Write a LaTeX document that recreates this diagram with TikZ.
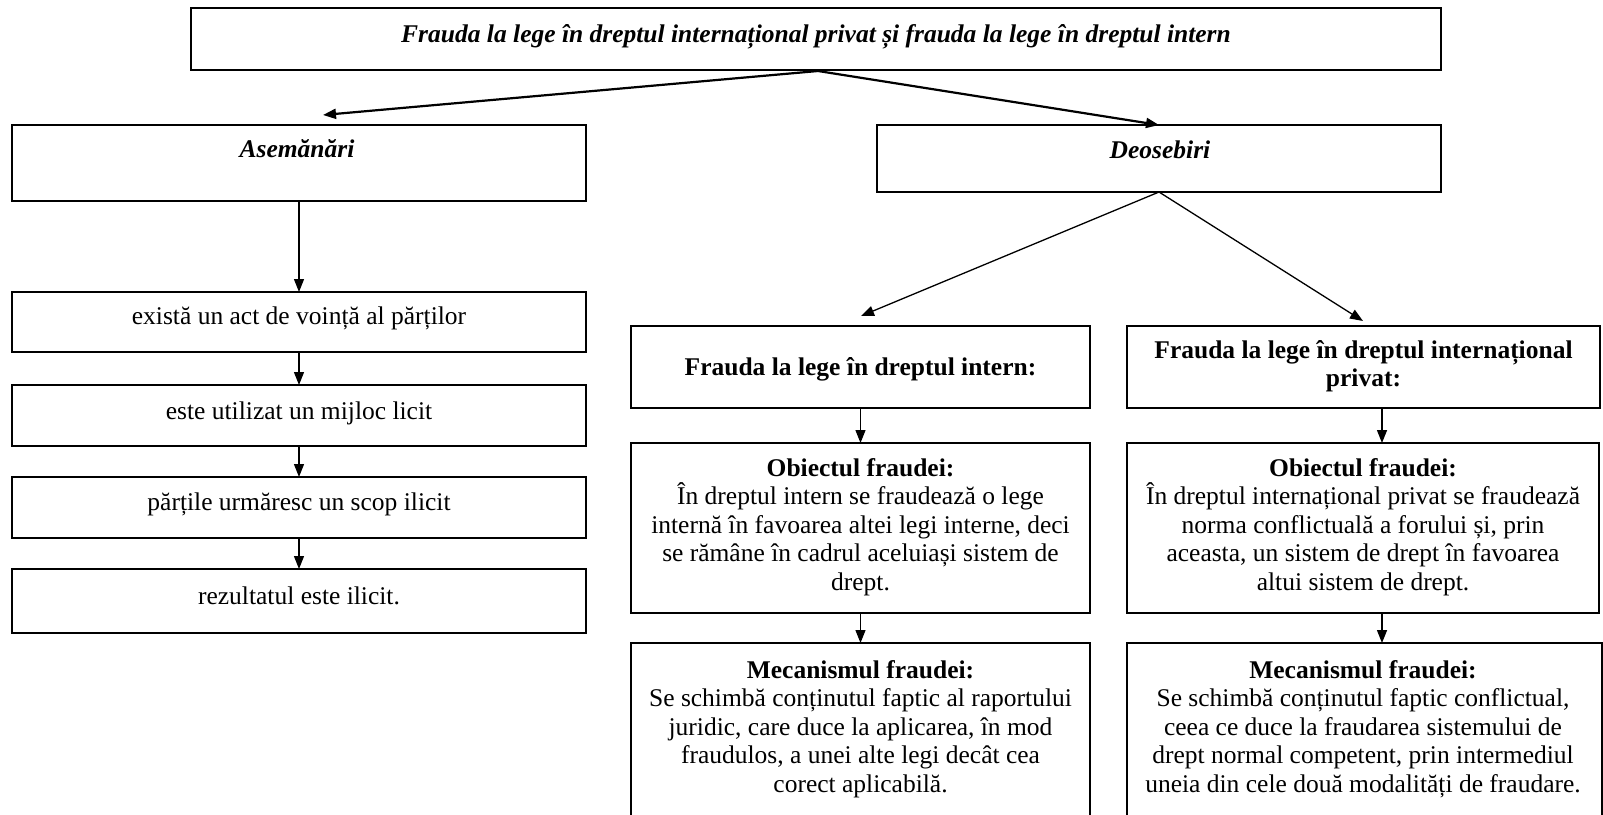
\documentclass[tikz,border=0pt]{standalone}
\usepackage{fontspec}
\setmainfont{Liberation Serif}
\usetikzlibrary{arrows.meta}
\begin{document}
\begin{tikzpicture}[x=1pt,y=-1pt,
  box/.style={draw, line width=1.3pt, inner sep=0pt, outer sep=0pt},
  txt/.style={align=center, inner sep=0pt, font=\fontsize{25.5}{28.4}\selectfont},
  bitxt/.style={txt, font=\fontsize{25.5}{28.4}\selectfont\bfseries\itshape},
  btxt/.style={txt, font=\fontsize{25.5}{28.4}\selectfont\bfseries},
  arr/.style={-{Triangle[length=13pt,width=10pt]}, line width=1.3pt},
  arrthick/.style={arr, line width=2.2pt}]
\useasboundingbox (0,0) rectangle (1603,814);
\fill[white] (0,0) rectangle (1603,814);
\clip (0,0) rectangle (1603,814);

% boxes
\node[box, minimum width=1250pt, minimum height=62pt] (top) at (816,39) {};
\node[box, minimum width=574pt, minimum height=76pt] (asem) at (299,163) {};
\node[box, minimum width=564pt, minimum height=67pt] (deos) at (1159,158.5) {};
\node[box, minimum width=574pt, minimum height=60pt] (ex) at (299,322) {};
\node[box, minimum width=574pt, minimum height=61pt] (este) at (299,415.5) {};
\node[box, minimum width=574pt, minimum height=61pt] (part) at (299,507.5) {};
\node[box, minimum width=574pt, minimum height=64pt] (rez) at (299,601) {};
\node[box, minimum width=459pt, minimum height=82pt] (fi) at (860.5,367) {};
\node[box, minimum width=473pt, minimum height=82pt] (fp) at (1363.5,367) {};
\node[box, minimum width=459pt, minimum height=170pt] (oi) at (860.5,528) {};
\node[box, minimum width=472pt, minimum height=170pt] (op) at (1363,528) {};
\node[box, minimum width=459pt, minimum height=197pt] (mi) at (860.5,741.5) {};
\node[box, minimum width=475pt, minimum height=197pt] (mp) at (1364.5,741.5) {};

% texts
\node[bitxt] (ttop) at (816,37) {Frauda la lege în dreptul internațional privat și frauda la lege în dreptul intern};
\node[bitxt] (tasem) at (297,149) {Asemănări};
\node[bitxt] (tdeos) at (1160,150) {Deosebiri};
\node[txt] (tex) at (299,318) {există un act de voință al părților};
\node[txt] (teste) at (299,413) {este utilizat un mijloc licit};
\node[txt] (tpart) at (299,504) {părțile urmăresc un scop ilicit};
\node[txt] (trez) at (299,596) {rezultatul este ilicit.};
\node[btxt] (tfi) at (860.5,369) {Frauda la lege în dreptul intern:};
\node[btxt] (tfp) at (1363.5,366) {Frauda la lege în dreptul internațional\\privat:};
\node[txt] (toi) at (860.5,527) {\textbf{Obiectul fraudei:}\\În dreptul intern se fraudează o lege\\internă în favoarea altei legi interne, deci\\se rămâne în cadrul aceluiași sistem de\\drept.};
\node[txt] (top2) at (1363,527) {\textbf{Obiectul fraudei:}\\În dreptul internațional privat se fraudează\\norma conflictuală a forului și, prin\\aceasta, un sistem de drept în favoarea\\altui sistem de drept.};
\node[txt] (tmi) at (860.5,729) {\textbf{Mecanismul fraudei:}\\Se schimbă conținutul faptic al raportului\\juridic, care duce la aplicarea, în mod\\fraudulos, a unei alte legi decât cea\\corect aplicabilă.};
\node[txt] (tmp) at (1363,729) {\textbf{Mecanismul fraudei:}\\Se schimbă conținutul faptic conflictual,\\ceea ce duce la fraudarea sistemului de\\drept normal competent, prin intermediul\\uneia din cele două modalități de fraudare.};

% connector end points
\coordinate (tA) at (818,71);
\coordinate (asemIn) at (323,115);
\coordinate (fiIn) at (861,316);
\coordinate (fpIn) at (1363,321);
\coordinate (rx) at (1382,0);

% connectors
\draw[arrthick] (tA) -- (asemIn);
\draw[arrthick] (tA) -- (deos.north);
\draw[arr] (deos.south) -- (fiIn);
\draw[arr] (deos.south) -- (fpIn);
\draw[arr] (asem.south) -- (ex.north);
\draw[arr] (ex.south) -- (este.north);
\draw[arr] (este.south) -- (part.north);
\draw[arr] (part.south) -- (rez.north);
\draw[arr] (fi.south) -- (oi.north);
\draw[arr] (oi.south) -- (mi.north);
\draw[arr] (fp.south -| rx) -- (op.north -| rx);
\draw[arr] (op.south -| rx) -- (mp.north -| rx);
\end{tikzpicture}
\end{document}
